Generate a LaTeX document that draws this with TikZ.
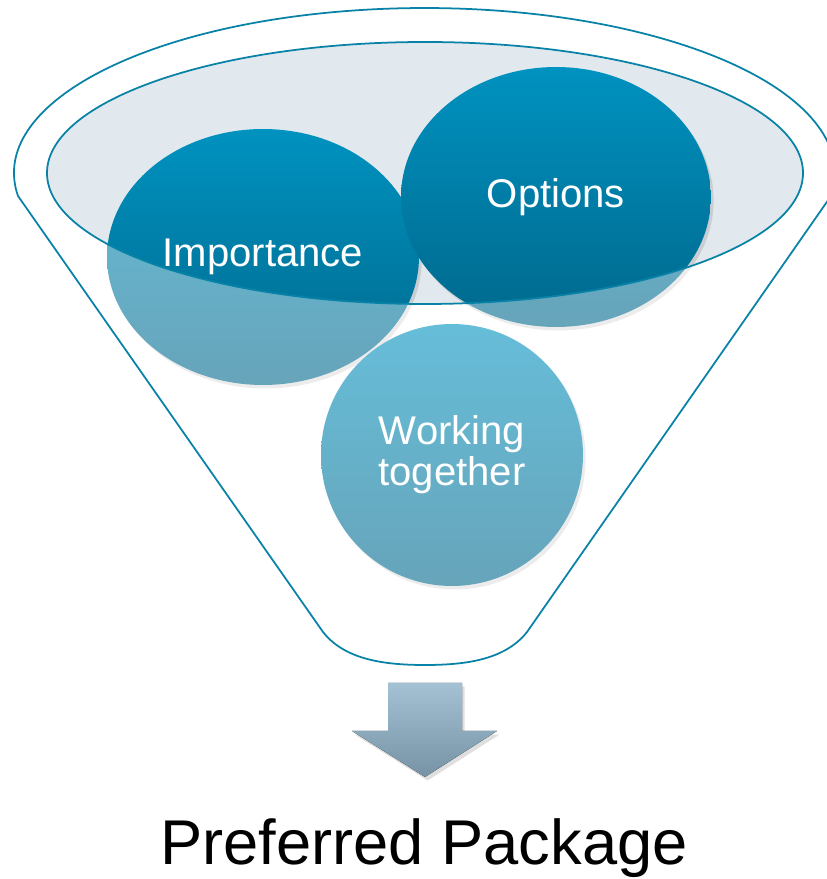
\documentclass[tikz,border=0pt]{standalone}
\usepackage{fontspec}
\setmainfont{Liberation Sans}
\usetikzlibrary{shapes.geometric,shadows}

\definecolor{funnelline}{RGB}{8,130,166}
\definecolor{mouthfill}{RGB}{225,233,238}
\definecolor{bubbletop}{RGB}{0,146,192}
\definecolor{bubblebottom}{RGB}{0,104,140}
\definecolor{arrowtop}{RGB}{165,194,212}
\definecolor{arrowbottom}{RGB}{118,146,165}

\begin{document}
\begin{tikzpicture}[x=0.02cm,y=0.02cm,
  bubble/.style={ellipse,inner sep=0pt,text=white,align=center,
    top color=bubbletop,bottom color=bubblebottom,
    drop shadow={opacity=0.25,shadow xshift=1.5pt,shadow yshift=-2pt},
    font=\fontsize{22.8}{23.4}\selectfont}]
  \useasboundingbox (0,0) rectangle (826,879);

  % fill the mouth of the funnel
  \fill[mouthfill] (425,706) ellipse [x radius=378,y radius=131];

  % the three bubbles, options lies over importance
  \node[bubble,minimum width=6.24cm,minimum height=5.12cm] (importance) at (263,622) {Importance};
  \node[bubble,minimum width=6.2cm,minimum height=5.2cm] (options) at (556,682) {Options};
  \node[bubble,minimum width=5.24cm,minimum height=5.24cm] (working) at (452,424) {Working\\together};

  % lighten the body of the funnel, the mouth stays dark
  \fill[white,fill opacity=0.4,even odd rule]
    (18,683) arc[start angle=188,end angle=-8,x radius=410.5,y radius=165]
    -- (527,247) .. controls (505,219) and (465,214) .. (425,214)
    .. controls (385,214) and (345,219) .. (323,247) -- cycle
    (425,706) ellipse [x radius=378,y radius=131];

  % stroke the funnel and its mouth
  \draw[funnelline,line width=1pt]
    (18,683) arc[start angle=188,end angle=-8,x radius=410.5,y radius=165]
    -- (527,247) .. controls (505,219) and (465,214) .. (425,214)
    .. controls (385,214) and (345,219) .. (323,247) -- cycle;
  \draw[funnelline,line width=1pt] (425,706) ellipse [x radius=378,y radius=131];

  % block arrow under the funnel
  \fill[top color=arrowtop,bottom color=arrowbottom,
    drop shadow={opacity=0.25,shadow xshift=1.5pt,shadow yshift=-2pt}]
    (388,196) -- (462,196) -- (462,148) -- (497,148) -- (425,102)
    -- (352,148) -- (388,148) -- cycle;

  % what comes out
  \node[anchor=base,font=\fontsize{36}{40}\selectfont] (result) at (424,14) {Preferred Package};
\end{tikzpicture}
\end{document}
